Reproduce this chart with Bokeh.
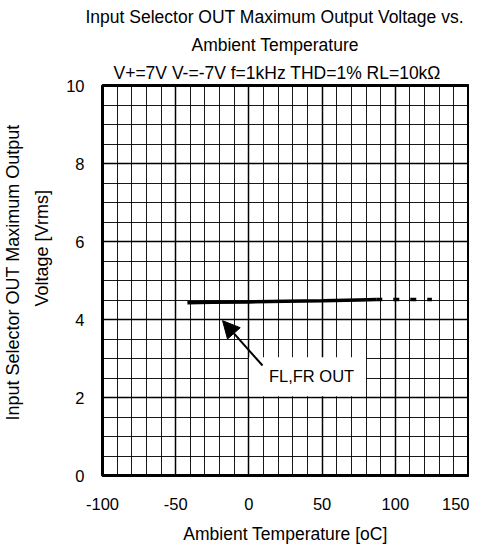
from bokeh.plotting import figure
from bokeh.models import FixedTicker, Title, Arrow, NormalHead, Range1d
from bokeh.core.properties import value
from bokeh.embed import file_html
from bokeh.resources import INLINE

# ---- data ----
temp_solid = [-42, -25, 0, 25, 50, 75, 87]
volt_solid = [4.43, 4.44, 4.45, 4.47, 4.48, 4.50, 4.51]
temp_dash = [87, 105, 125]
volt_dash = [4.51, 4.51, 4.51]

x_ticks = [-100, -50, 0, 50, 100, 150]
x_tick_labels = ["-100", "-50", "0", "50", "100", "150"]
x_minor = list(range(-100, 151, 10))
y_ticks = [0, 2, 4, 6, 8, 10]
y_minor = [i * 0.5 for i in range(0, 21)]

title_lines = [
    "Input Selector OUT Maximum Output Voltage vs.",
    "Ambient Temperature",
    "V+=7V V-=-7V f=1kHz THD=1% RL=10k\u03a9",
]
title_offsets = [-17, 89, 11]
ylabel_lines = ["Input Selector OUT Maximum Output", "Voltage [Vrms]"]
ylabel_offsets = [55, 169]
ylabel_standoffs = [-11, 24]
xlabel = "Ambient Temperature [oC]"
series_label = "FL,FR OUT"
label_pos = (42.8, 2.54)
label_box = (0, 80, 2.03, 3.03)
arrow_from = (9.3, 2.82)
arrow_to = (-18, 3.97)

FONT = "Liberation Sans"

p = figure(frame_width=366, frame_height=390, output_backend="svg", toolbar_location=None,
           x_range=Range1d(-100, 150), y_range=Range1d(0, 10),
           min_border_left=102, min_border_right=1, min_border_top=85,
           min_border_bottom=60, title=None)

for t, off in reversed(list(zip(title_lines, title_offsets))):
    p.add_layout(Title(text=t, align="left", offset=off, text_font=FONT,
                       text_font_size="17.5px", text_font_style="normal",
                       text_color="black", standoff=6), "above")

# y-axis label as two left-side titles (inner line first)
for t, off, so in reversed(list(zip(ylabel_lines, ylabel_offsets, ylabel_standoffs))):
    p.add_layout(Title(text=t, align="left", offset=off, text_font=FONT,
                       text_font_size="18px", text_font_style="normal",
                       text_color="black", standoff=so), "left")

p.background_fill_color = "white"
p.border_fill_color = "white"
p.outline_line_color = "black"
p.outline_line_width = 3

p.xaxis.ticker = FixedTicker(ticks=x_ticks, minor_ticks=x_minor)
p.yaxis.ticker = FixedTicker(ticks=y_ticks, minor_ticks=y_minor)
p.xaxis.major_label_overrides = {t: s for t, s in zip(x_ticks, x_tick_labels)}

for ax in (p.xaxis, p.yaxis):
    ax.axis_line_color = None
    ax.major_tick_line_color = None
    ax.minor_tick_line_color = None
    ax.major_label_text_font = FONT
    ax.major_label_text_font_size = "16.5px"
    ax.major_label_text_color = "black"
    ax.axis_label_text_font = FONT
    ax.axis_label_text_font_size = "17.5px"
    ax.axis_label_text_font_style = "normal"
    ax.axis_label_text_color = "black"

p.xaxis.major_label_standoff = 16
p.yaxis.major_label_standoff = 12
p.xaxis.axis_label = xlabel
p.xaxis.axis_label_standoff = 11

for g in (p.xgrid, p.ygrid):
    g.grid_line_color = "black"
    g.grid_line_width = 1.5
    g.grid_line_alpha = 1
    g.minor_grid_line_color = "black"
    g.minor_grid_line_width = 1
    g.minor_grid_line_alpha = 0.9

p.line(temp_solid, volt_solid, line_color="black", line_width=3.5)
p.line(temp_dash, volt_dash, line_color="black", line_width=3.5, line_dash="6 11")

p.quad(left=[label_box[0]], right=[label_box[1]], bottom=[label_box[2]], top=[label_box[3]],
       fill_color="white", line_color=None)
p.text(x=[label_pos[0]], y=[label_pos[1]], text=[series_label],
       text_font=value(FONT), text_font_size="16.5px", text_align="center",
       text_baseline="middle", text_color="black")

p.add_layout(Arrow(end=NormalHead(size=17, fill_color="black", line_color="black"),
                   x_start=arrow_from[0], y_start=arrow_from[1],
                   x_end=arrow_to[0], y_end=arrow_to[1],
                   line_color="black", line_width=2))

open("out.html", "w").write(file_html(p, INLINE))
